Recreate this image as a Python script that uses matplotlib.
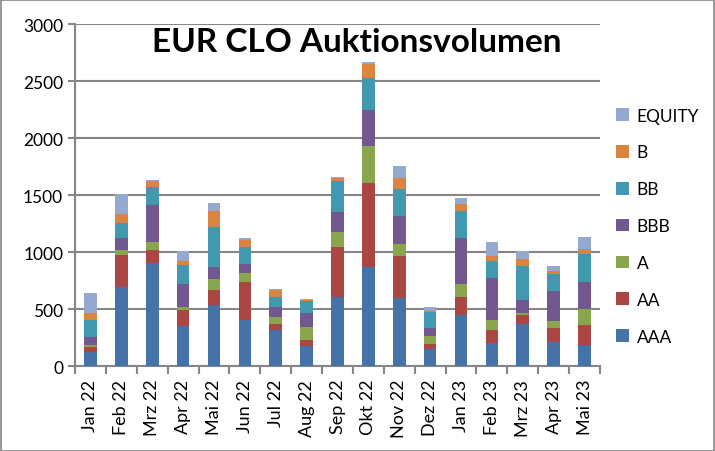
import matplotlib
matplotlib.use("Agg")
import matplotlib.pyplot as plt
import numpy as np
from matplotlib.patches import Rectangle

months = ["Jan 22", "Feb 22", "Mrz 22", "Apr 22", "Mai 22", "Jun 22", "Jul 22", "Aug 22",
          "Sep 22", "Okt 22", "Nov 22", "Dez 22", "Jan 23", "Feb 23", "Mrz 23", "Apr 23", "Mai 23"]
series_names = ["AAA", "AA", "A", "BBB", "BB", "B", "EQUITY"]
AAA = [122, 691, 903, 351, 534, 404, 317, 177, 604, 874, 596, 151, 447, 203, 369, 212, 186]
AA = [46, 288, 119, 140, 131, 331, 52, 52, 445, 733, 374, 44, 157, 114, 78, 122, 174]
A = [18, 43, 70, 26, 96, 81, 61, 114, 131, 322, 105, 69, 113, 87, 18, 61, 140]
BBB = [72, 105, 323, 200, 113, 84, 87, 122, 174, 314, 244, 70, 410, 374, 113, 261, 243]
BB = [146, 131, 157, 169, 349, 146, 87, 104, 270, 288, 235, 139, 236, 146, 305, 157, 244]
B = [63, 81, 52, 41, 140, 64, 61, 9, 29, 122, 99, 12, 61, 46, 61, 26, 44]
EQUITY = [172, 172, 9, 87, 70, 17, 9, 9, 9, 18, 102, 32, 52, 122, 70, 44, 105]
series = [AAA, AA, A, BBB, BB, B, EQUITY]
colors = ["#4572A7", "#AA4643", "#89A54E", "#71588F", "#4198AF", "#DB843D", "#93A9CF"]

plt.rcParams['font.family'] = ['Lato', 'DejaVu Sans']

fig = plt.figure(figsize=(7.15, 4.52), dpi=100)
ax = fig.add_axes([75/715, 1 - 367.3/452, (600 - 75)/715, (367.3 - 25)/452])

x = np.arange(len(months))
bottom = np.zeros(len(months))
handles = []
for name, vals, c in zip(series_names, series, colors):
    h = ax.bar(x, vals, width=0.41, bottom=bottom, color=c, label=name, zorder=3)
    handles.append(h)
    bottom += np.array(vals)

ax.set_xlim(-0.5, len(months) - 0.5)
ax.set_ylim(0, 3000)
ax.set_yticks(np.arange(0, 3001, 500))
ax.yaxis.grid(True, color="#868686", linewidth=1.5, zorder=0)
ax.set_axisbelow(True)

ax.set_xticks(x)
ax.set_xticklabels(months, rotation=90, fontsize=13)
ax.tick_params(axis='x', length=0, pad=9)
ax.set_xticks(np.arange(-0.5, len(months), 1), minor=True)
ax.tick_params(axis='x', which='minor', length=6, width=1.5, color="#868686")
ax.tick_params(axis='y', length=5, width=1.5, color="#868686", labelsize=12.5)

for s in ["top", "right"]:
    ax.spines[s].set_visible(False)
for s in ["left", "bottom"]:
    ax.spines[s].set_color("#868686")
    ax.spines[s].set_linewidth(1.5)

ax.text(0.537, 0.95, "EUR CLO Auktionsvolumen", transform=ax.transAxes,
        ha="center", va="center", fontsize=24, fontweight="bold")

leg = fig.legend(handles[::-1], series_names[::-1], loc="upper left",
                 bbox_to_anchor=(600/715, 1 - 93/452), frameon=False,
                 fontsize=12.5, labelspacing=1.2, handlelength=0.75, handleheight=0.75,
                 handletextpad=0.45)

fig.patches.append(Rectangle((0.001, 0.001), 0.997, 0.997, transform=fig.transFigure,
                             fill=False, edgecolor="#868686", linewidth=1.2))

fig.savefig("out.png", dpi=100)
